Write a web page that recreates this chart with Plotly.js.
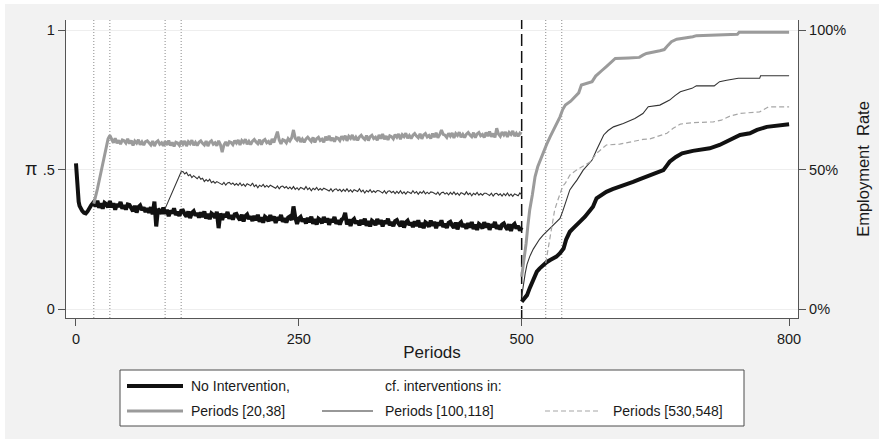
<!DOCTYPE html>
<html><head><meta charset="utf-8">
<script src="https://cdn.plot.ly/plotly-3.0.1.min.js"></script>
<style>html,body{margin:0;padding:0;background:#fff}#chart{width:884px;height:443px}</style>
</head><body><div id="chart"></div>
<script>
// ---------- data ----------
const xTickVals = [0, 250, 500, 800];
const yTickVals = [0, 0.5, 1];
const yTickText = ['0', '.5', '1'];
const y2TickText = ['0%', '50%', '100%'];
const interventionMarks = [20, 38, 100, 118, 527, 545];
const cutoffPeriod = 500;
const mainStep = 2;

// No intervention: periods 0..17 (detail), then 20..500 every 2 periods
const blackEarlyPeriods = [0, 1, 2, 3, 4, 5, 7, 9, 11, 13, 15, 17];
const blackEarly = [0.522, 0.47, 0.40, 0.385, 0.37, 0.362, 0.352, 0.345, 0.343, 0.35, 0.365, 0.372];
const blackMainStart = 20;
const blackMain = [
  .384,.368,.388,.363,.379,.360,.381,.376,.365,.387,
  .365,.379,.356,.376,.366,.384,.360,.372,.357,.375,
  .373,.360,.351,.370,.346,.365,.371,.355,.364,.348,
  .361,.345,.365,.340,.385,.296,.358,.353,.342,.364,
  .342,.356,.333,.353,.343,.361,.337,.349,.334,.352,
  .353,.340,.331,.350,.326,.345,.351,.335,.344,.328,
  .346,.330,.350,.325,.341,.322,.343,.338,.327,.349,
  .290,.343,.320,.340,.330,.348,.324,.336,.321,.339,
  .341,.328,.319,.338,.314,.333,.339,.323,.332,.316,
  .334,.318,.338,.313,.329,.310,.331,.326,.315,.337,
  .318,.332,.309,.329,.319,.337,.313,.325,.310,.328,
  .332,.319,.368,.329,.305,.324,.330,.314,.323,.307,
  .327,.311,.331,.306,.322,.303,.324,.319,.308,.330,
  .311,.325,.302,.322,.312,.330,.306,.318,.303,.321,
  .325,.345,.303,.322,.298,.317,.323,.307,.316,.300,
  .320,.304,.324,.299,.315,.296,.317,.312,.301,.323,
  .305,.319,.296,.316,.306,.324,.300,.312,.297,.315,
  .319,.306,.297,.316,.292,.311,.317,.301,.310,.294,
  .314,.298,.318,.293,.309,.290,.311,.306,.295,.317,
  .299,.313,.290,.310,.300,.318,.294,.306,.291,.309,
  .313,.300,.291,.310,.286,.305,.311,.295,.304,.288,
  .308,.292,.312,.287,.303,.284,.305,.300,.289,.311,
  .293,.307,.284,.304,.294,.312,.288,.300,.285,.303,
  .307,.294,.285,.304,.280,.299,.305,.289,.298,.282,
  .293];

// Intervention in periods [20,38]
const grayRisePeriods = [20, 22, 24, 26, 28, 30, 32, 34, 36, 38];
const grayRise = [0.378, 0.40, 0.43, 0.46, 0.49, 0.52, 0.55, 0.58, 0.61, 0.622];
const grayMainStart = 40;
const grayMain = [
  .609,.596,.612,.594,.605,.591,.606,.603,.595,.610,
  .593,.604,.586,.602,.595,.607,.589,.599,.588,.600,
  .603,.594,.588,.602,.584,.598,.603,.591,.596,.585,
  .601,.588,.604,.586,.597,.583,.598,.595,.587,.602,
  .591,.602,.584,.600,.593,.605,.587,.597,.586,.598,
  .603,.594,.588,.602,.584,.598,.603,.591,.596,.585,
  .603,.590,.562,.588,.599,.585,.600,.597,.589,.604,
  .595,.606,.588,.604,.597,.609,.591,.601,.590,.602,
  .608,.599,.593,.607,.589,.603,.608,.596,.601,.590,
  .610,.597,.613,.636,.606,.592,.607,.604,.596,.611,
  .603,.614,.642,.612,.605,.617,.599,.609,.598,.610,
  .616,.607,.601,.615,.597,.611,.616,.604,.609,.598,
  .618,.605,.621,.603,.614,.600,.615,.612,.604,.619,
  .610,.621,.603,.619,.612,.624,.606,.616,.605,.617,
  .623,.614,.608,.622,.604,.618,.623,.611,.616,.605,
  .624,.611,.627,.609,.620,.606,.621,.618,.610,.625,
  .616,.627,.609,.625,.618,.630,.612,.622,.611,.623,
  .629,.620,.614,.628,.610,.624,.629,.617,.622,.611,
  .629,.616,.632,.614,.625,.642,.626,.623,.615,.630,
  .620,.631,.613,.629,.622,.634,.616,.626,.615,.627,
  .633,.624,.618,.632,.614,.628,.633,.621,.626,.615,
  .633,.620,.636,.618,.629,.615,.648,.627,.619,.634,
  .624,.635,.617,.633,.626,.638,.620,.630,.619,.631,
  .627];

// Intervention in periods [100,118]
const darkRisePeriods = [100, 102, 104, 106, 108, 110, 112, 114, 116, 118];
const darkRise = [0.36, 0.375, 0.39, 0.405, 0.42, 0.435, 0.45, 0.465, 0.48, 0.492];
const darkMainStart = 120;
const darkMain = [
  .493,.484,.490,.478,.482,.471,.478,.473,.467,.475,
  .465,.469,.457,.464,.458,.465,.453,.458,.451,.457,
  .454,.450,.446,.454,.444,.452,.454,.447,.452,.444,
  .450,.443,.452,.442,.448,.440,.449,.446,.442,.452,
  .439,.445,.435,.444,.439,.447,.437,.443,.437,.444,
  .441,.437,.433,.441,.431,.439,.441,.434,.439,.431,
  .437,.430,.439,.429,.435,.427,.436,.433,.429,.439,
  .428,.434,.424,.433,.428,.436,.426,.432,.426,.433,
  .431,.427,.423,.431,.421,.429,.431,.424,.429,.421,
  .429,.422,.431,.421,.427,.419,.428,.425,.421,.431,
  .420,.426,.416,.425,.420,.428,.418,.424,.418,.425,
  .424,.420,.416,.424,.414,.422,.424,.417,.422,.414,
  .422,.415,.424,.414,.420,.412,.421,.418,.414,.424,
  .415,.421,.411,.420,.415,.423,.413,.419,.413,.420,
  .419,.415,.411,.419,.409,.417,.419,.412,.417,.409,
  .418,.411,.420,.410,.416,.408,.417,.414,.410,.420,
  .410,.416,.406,.415,.410,.418,.408,.414,.408,.415,
  .415,.411,.407,.415,.405,.413,.415,.408,.413,.405,
  .414,.407,.416,.406,.412,.404,.413,.410,.406,.416,
  .409];

// Employment rates after period 500
const blackPostPeriods = [500,503,506,509,511,514,517,520,524,528,532,536,539,543,547,550,554,558,562,566,571,576,580,584,590,595,602,610,618,625,632,640,644,655,659,663,666,673,680,692,711,722,734,745,756,764,775,786,800];
const blackPost = [0.026,0.04,0.05,0.075,0.092,0.115,0.134,0.145,0.158,0.168,0.176,0.182,0.188,0.2,0.217,0.25,0.277,0.29,0.301,0.315,0.331,0.35,0.367,0.397,0.41,0.42,0.43,0.438,0.447,0.456,0.465,0.474,0.48,0.49,0.498,0.515,0.528,0.545,0.558,0.567,0.576,0.588,0.606,0.624,0.63,0.642,0.653,0.656,0.662];

const grayPostPeriods = [500,503,505,507,509,512,515,518,521,524,528,532,537,543,546,549,555,560,564,567,573,579,583,586,590,595,600,605,620,632,636,640,655,660,664,668,674,685,692,696,720,742,744,800];
const grayPost = [0.116,0.18,0.236,0.30,0.355,0.41,0.474,0.51,0.535,0.558,0.59,0.618,0.65,0.689,0.715,0.731,0.745,0.761,0.775,0.803,0.81,0.815,0.835,0.845,0.855,0.869,0.885,0.898,0.90,0.902,0.91,0.916,0.926,0.93,0.945,0.958,0.967,0.972,0.976,0.98,0.983,0.985,0.992,0.992];

const darkPostPeriods = [500,502,504,506,509,513,517,520,524,529,534,539,543,546,549,554,558,562,569,575,579,584,588,592,597,603,614,620,627,636,642,655,666,672,678,691,696,716,722,730,743,767,768,800];
const darkPost = [0.044,0.09,0.129,0.16,0.188,0.215,0.235,0.25,0.265,0.28,0.295,0.31,0.325,0.35,0.379,0.427,0.445,0.462,0.498,0.522,0.534,0.57,0.60,0.624,0.64,0.653,0.665,0.672,0.683,0.701,0.725,0.731,0.749,0.765,0.779,0.791,0.80,0.80,0.815,0.82,0.827,0.827,0.836,0.836];

const dashedPostPeriods = [527,529,531,533,535,537,540,543,546,549,554,560,565,571,577,584,590,595,610,622,636,644,651,657,663,670,678,692,715,724,734,745,767,777,800];
const dashedPost = [0.165,0.2,0.24,0.28,0.32,0.355,0.385,0.415,0.44,0.451,0.48,0.495,0.504,0.515,0.528,0.558,0.575,0.588,0.591,0.60,0.608,0.61,0.618,0.625,0.63,0.648,0.663,0.668,0.671,0.677,0.692,0.701,0.707,0.725,0.725];

const legendNames = ['No Intervention,', 'cf. interventions in:', 'Periods [20,38]', 'Periods [100,118]', 'Periods [530,548]'];

// ---------- helpers ----------
function periodsFrom(start, step, n) { const a = []; for (let i = 0; i < n; i++) a.push(start + step * i); return a; }

const blackPreX = blackEarlyPeriods.concat(periodsFrom(blackMainStart, mainStep, blackMain.length));
const blackPreY = blackEarly.concat(blackMain);
const grayPreX = grayRisePeriods.concat(periodsFrom(grayMainStart, mainStep, grayMain.length));
const grayPreY = grayRise.concat(grayMain);
const darkPreX = darkRisePeriods.concat(periodsFrom(darkMainStart, mainStep, darkMain.length));
const darkPreY = darkRise.concat(darkMain);

const C_BLACK = '#111111', C_GRAY = '#9b9b9b', C_DARK = '#333333', C_DASH = '#a6a6a6';
const S_BLACK = {color: C_BLACK, width: 4};
const S_GRAY = {color: C_GRAY, width: 3};
const S_DARK = {color: C_DARK, width: 1.1};
const S_DASH = {color: C_DASH, width: 1.2, dash: '5px,3px'};

const traces = [
  {x: blackPreX, y: blackPreY, yaxis: 'y', mode: 'lines', line: S_BLACK, name: legendNames[0]},
  {x: grayPreX, y: grayPreY, yaxis: 'y', mode: 'lines', line: S_GRAY, name: legendNames[2]},
  {x: darkPreX, y: darkPreY, yaxis: 'y', mode: 'lines', line: S_DARK, name: legendNames[3]},
  {x: blackPostPeriods, y: blackPost, yaxis: 'y2', mode: 'lines', line: S_BLACK, name: legendNames[0]},
  {x: grayPostPeriods, y: grayPost, yaxis: 'y2', mode: 'lines', line: S_GRAY, name: legendNames[2]},
  {x: darkPostPeriods, y: darkPost, yaxis: 'y2', mode: 'lines', line: S_DARK, name: legendNames[3]},
  {x: dashedPostPeriods, y: dashedPost, yaxis: 'y2', mode: 'lines', line: S_DASH, name: legendNames[4]}
];
traces.forEach(t => { t.hoverinfo = 'skip'; t.showlegend = false; });

// ---------- layout ----------
const W = 884, H = 443, ML = 66, MR = 86, MT = 20, MB = 125;
const PW = W - ML - MR, PH = H - MT - MB;
const px = v => (v - ML) / PW;
const py = v => (H - MB - v) / PH;

const shapes = [];
[[0,0,5,H],[879,0,W,H],[0,0,W,4],[0,439,W,H]].forEach(r => shapes.push({
  type: 'rect', xref: 'paper', yref: 'paper', x0: px(r[0]), x1: px(r[2]), y0: py(r[1]), y1: py(r[3]),
  fillcolor: '#ffffff', line: {width: 0}, layer: 'below'}));
interventionMarks.forEach(m => shapes.push({
  type: 'line', xref: 'x', yref: 'paper', x0: m, x1: m, y0: 0, y1: 1,
  line: {color: '#8a8a8a', width: 1, dash: '1px,2px'}, layer: 'below'}));
shapes.push({type: 'line', xref: 'x', yref: 'paper', x0: cutoffPeriod, x1: cutoffPeriod, y0: 0, y1: 1,
  line: {color: '#111', width: 1.5, dash: '12px,5px'}, layer: 'below'});

shapes.push({type: 'rect', xref: 'paper', yref: 'paper', x0: px(120), x1: px(744), y0: py(370), y1: py(426),
  fillcolor: '#ffffff', line: {color: '#4d4d4d', width: 1}, layer: 'above'});
const legendLines = [
  [127, 183, 386, S_BLACK],
  [127, 183, 411, S_GRAY],
  [322, 373, 411, S_DARK],
  [545, 598, 411, S_DASH]
];
legendLines.forEach(l => shapes.push({type: 'line', xref: 'paper', yref: 'paper',
  x0: px(l[0]), x1: px(l[1]), y0: py(l[2]), y1: py(l[2]), line: l[3], layer: 'above'}));

const annotations = [];
const legendTexts = [[189, 386, 0], [383, 386, 1], [189, 411, 2], [383, 411, 3], [611, 411, 4]];
legendTexts.forEach(t => annotations.push({xref: 'paper', yref: 'paper', x: px(t[0]), y: py(t[1]),
  xanchor: 'left', yanchor: 'middle', showarrow: false, text: legendNames[t[2]],
  font: {size: 14, color: '#1a1a1a'}}));
annotations.push({xref: 'paper', yref: 'paper', x: px(31), y: py(169), xanchor: 'center', yanchor: 'middle',
  showarrow: false, text: 'π', font: {size: 18, color: '#1a1a1a'}});

const axisCommon = {
  ticks: 'outside', ticklen: 7, tickwidth: 1, tickcolor: '#555', showline: true, linecolor: '#555',
  linewidth: 1.2, zeroline: false, tickfont: {size: 14.5, color: '#1a1a1a'}, fixedrange: true
};

const layout = {
  width: W, height: H,
  margin: {l: ML, r: MR, t: MT, b: MB, pad: 0},
  paper_bgcolor: '#f2f2f2', plot_bgcolor: '#ffffff',
  showlegend: false,
  font: {family: 'Liberation Sans, Arial, Helvetica, sans-serif', size: 14, color: '#1a1a1a'},
  xaxis: Object.assign({}, axisCommon, {range: [-11.2, 810], tickvals: xTickVals, showgrid: false,
    title: {text: 'Periods', font: {size: 17}, standoff: 0}}),
  yaxis: Object.assign({}, axisCommon, {range: [-0.032, 1.036], tickvals: yTickVals, ticktext: yTickText,
    showgrid: true, gridcolor: '#eeeeee', gridwidth: 1}),
  yaxis2: Object.assign({}, axisCommon, {range: [-0.032, 1.036], tickvals: yTickVals, ticktext: y2TickText,
    overlaying: 'y', side: 'right', showgrid: false,
    title: {text: 'Employment  Rate', font: {size: 16.5}, standoff: 12}}),
  shapes: shapes,
  annotations: annotations
};

Plotly.newPlot('chart', traces, layout, {displayModeBar: false, staticPlot: true});
</script></body></html>
